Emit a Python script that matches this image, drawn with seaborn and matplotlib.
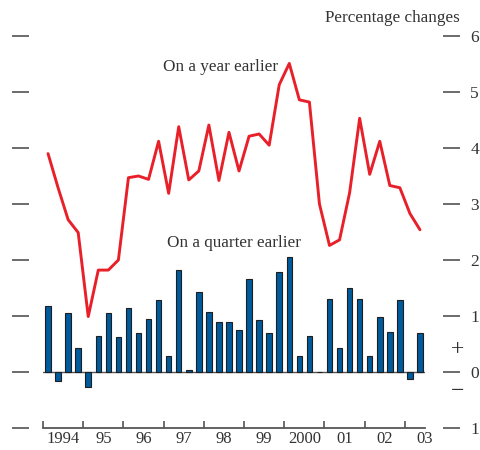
import numpy as np
import pandas as pd
import matplotlib
matplotlib.use("Agg")
import matplotlib.pyplot as plt
import matplotlib.transforms as mtrans
import seaborn as sns

# ---- data (quarterly, 1994Q1 - 2003Q2) ----
year_labels = ["1994", "95", "96", "97", "98", "99", "2000", "01", "02", "03"]
year_on_year = [3.90, 3.29, 2.72, 2.49, 0.99, 1.82, 1.82, 2.00, 3.47, 3.50,
                3.44, 4.12, 3.19, 4.38, 3.43, 3.59, 4.41, 3.42, 4.28, 3.59,
                4.21, 4.25, 4.05, 5.13, 5.51, 4.86, 4.82, 3.00, 2.26, 2.36,
                3.20, 4.53, 3.53, 4.12, 3.33, 3.29, 2.83, 2.54]
quarter_on_quarter = [1.17, -0.16, 1.05, 0.43, -0.26, 0.65, 1.05, 0.62, 1.14, 0.69,
                      0.95, 1.28, 0.29, 1.83, 0.04, 1.43, 1.08, 0.89, 0.89, 0.75,
                      1.66, 0.92, 0.69, 1.79, 2.06, 0.29, 0.65, 0.00, 1.30, 0.43,
                      1.50, 1.30, 0.29, 0.98, 0.72, 1.28, -0.13, 0.69]
y_ticks = [-1, 0, 1, 2, 3, 4, 5, 6]

pos = np.arange(len(year_on_year))
df = pd.DataFrame({"pos": pos, "yoy": year_on_year, "qoq": quarter_on_quarter})

sns.set_theme(style="white")
plt.rcParams["font.family"] = ["Liberation Serif", "DejaVu Serif"]
txt = "#333333"
grey = "#555555"

fig = plt.figure(figsize=(4.81, 4.5), dpi=100)
ax = fig.add_axes([43 / 481, 22 / 450, 382 / 481, 392 / 450])

sns.barplot(data=df, x="pos", y="qoq", native_scale=True, width=0.55,
            color="#005b9c", saturation=1, edgecolor="#1e1e1e", linewidth=0.8,
            ax=ax, zorder=3)
sns.lineplot(data=df, x="pos", y="yoy", color="#e8202a", linewidth=2.1, ax=ax, zorder=4)

ax.axhline(0, color=grey, linewidth=1.0, zorder=2)
ax.set_xlim(-0.5, 37.45)
ax.set_ylim(-1, 6)
ax.set_xlabel("")
ax.set_ylabel("")

# spines
ax.spines["top"].set_visible(False)
ax.spines["bottom"].set_color(grey)
ax.spines["bottom"].set_linewidth(1.3)
ax.spines["left"].set_position(("outward", 10))
ax.spines["right"].set_position(("outward", 13))
ax.spines["left"].set_visible(False)
ax.spines["right"].set_visible(False)

# y ticks: dashes on both sides, labels on right only
ax.set_yticks(y_ticks)
ax.set_yticklabels([str(abs(v)) for v in y_ticks])
ax.tick_params(axis="y", left=True, right=True, labelleft=False, labelright=True,
               direction="out", length=12.2, width=1.1, color="#444444",
               pad=7.5, labelsize=12.5, labelcolor=txt)

# x ticks: year boundaries (major) and labels at mid-year (minor)
n_years = len(year_labels)
ax.set_xticks([4 * k - 0.5 for k in range(n_years)])
ax.set_xticklabels([])
ax.set_xticks([4 * k + 1.5 for k in range(n_years)], minor=True)
ax.set_xticklabels(year_labels, minor=True)
ax.tick_params(axis="x", which="major", bottom=True, direction="in", length=5,
               width=1.1, color="#444444")
ax.tick_params(axis="x", which="minor", bottom=True, length=0, pad=2.0,
               labelsize=12.0, labelcolor=txt)

# annotations
ax.text(11.4, 5.44, "On a year earlier", ha="left", va="center",
        fontsize=12.3, color=txt)
ax.text(11.8, 2.31, "On a quarter earlier", ha="left", va="center",
        fontsize=12.3, color=txt)
fig.text(460 / 481, 1 - 18 / 450, "Percentage changes", ha="right", va="center",
         fontsize=12.3, color=txt)
tr = mtrans.blended_transform_factory(ax.transAxes, ax.transData)
ax.text((458 - 43) / 382, 0.4, "+", transform=tr, ha="center", va="center",
        fontsize=17, color=txt)
ax.text((458 - 43) / 382, -0.35, "\u2212", transform=tr, ha="center", va="center",
        fontsize=17, color=txt)

fig.savefig("out.png", dpi=100)
